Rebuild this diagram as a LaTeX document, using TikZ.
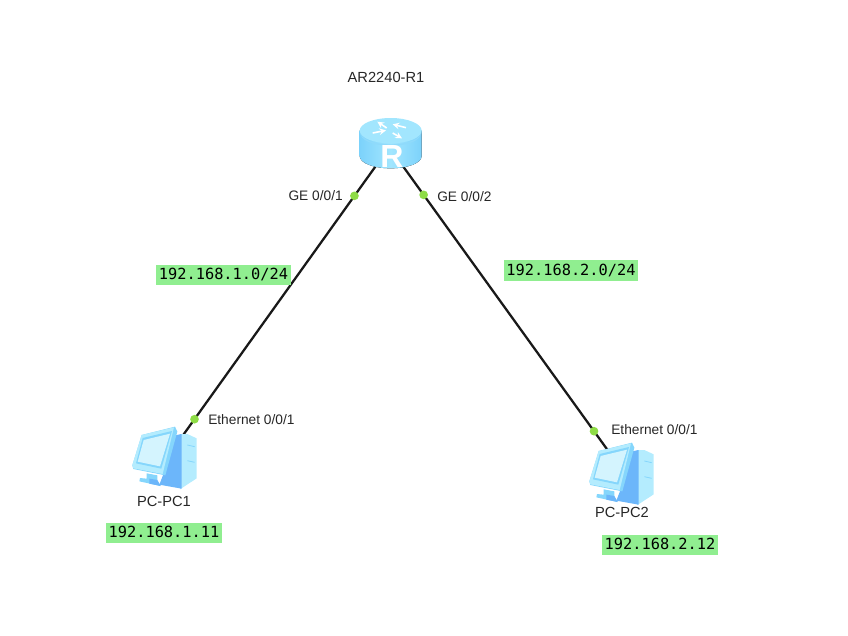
\documentclass[tikz,border=0pt]{standalone}
\usepackage{fontspec}
\setmainfont{Liberation Sans}
\newfontfamily\ipfont{DejaVu Sans Mono}
\usetikzlibrary{shapes.geometric}
\definecolor{ipgreen}{HTML}{90EE90}
\definecolor{dotgreen}{HTML}{8EDC46}
\definecolor{routerside}{HTML}{8FDAFB}
\definecolor{routeredge}{HTML}{7CD2FB}
\definecolor{routertop}{HTML}{A2E6FE}
\definecolor{pclight}{HTML}{B4ECFE}
\definecolor{pcmid}{HTML}{85D6FC}
\definecolor{pcdark}{HTML}{6CB6FA}
\definecolor{pcpale}{HTML}{D4F4FE}
\tikzset{
  anchorpt/.style={inner sep=0pt,minimum width=4.125pt,minimum height=1pt},
  pcpt/.style={inner sep=0pt,minimum size=1pt},
  link/.style={line width=1.7pt,black!90},
  portdot/.style={circle,fill=dotgreen,inner sep=0pt,minimum size=6.5pt},
  portlabel/.style={font=\fontsize{10.3}{12}\selectfont,text=black!85,inner sep=0pt},
  namelabel/.style={font=\fontsize{11}{13}\selectfont,text=black!85,inner sep=0pt},
  iplabel/.style={font=\ipfont\fontsize{11.5}{13}\selectfont,fill=ipgreen,text=black,inner xsep=2pt,inner ysep=2.7pt,text height=8.5pt,text depth=1.5pt},
  routericon/.pic={
    \begin{scope}[x=.25pt,y=-.25pt]
      \fill[left color=routeredge,right color=routeredge,middle color=routertop]
        (-91,-37) -- (-91,39) .. controls (-91,60) and (-50,76) .. (2,76) .. controls (54,76) and (95,60) .. (95,39) -- (95,-37) -- cycle;
      \fill[routertop] (2,-37) ellipse[x radius=93,y radius=38];
      \fill[routerside] (-91,-37) .. controls (-91,-12) and (-50,4) .. (2,4) .. controls (54,4) and (95,-12) .. (95,-37) .. controls (95,-6) and (54,8) .. (2,8) .. controls (-50,8) and (-91,-6) .. (-91,-37) -- cycle;
      \draw[white,line width=1.2pt,-{stealth}] (-10,-45) -- (-38,-64);
      \draw[white,line width=1.2pt,-{stealth}] (48,-46) -- (8,-56);
      \draw[white,line width=1.2pt,-{stealth}] (-52,-30) -- (-12,-38);
      \draw[white,line width=1.2pt,-{stealth}] (8,-30) -- (36,-14);
      \node[white,font=\bfseries\fontsize{24}{24}\selectfont,inner sep=0pt] at (6,40) {R};
    \end{scope}
  },
  pcicon/.pic={
    \begin{scope}[x=.25pt,y=-.25pt,shift={(-195,-147)}]
      \fill[pclight] (240,72) -- (262,72) -- (290,85) -- (290,205) -- (240,238) -- cycle;
      \draw[pcmid,line width=.6pt] (262,105) -- (284,110) (262,152) -- (284,157);
      \fill[pcdark] (215,78) -- (245,72) -- (245,236) -- (178,224) -- (195,180) -- cycle;
      \fill[pcmid] (140,190) -- (172,196) -- (172,212) -- (182,228) -- (118,214) -- (120,204) -- (140,206) -- cycle;
      \fill[pcdark] (148,206) -- (172,210) -- (182,228) -- (148,221) -- cycle;
      \fill[pcmid] (125,75) -- (225,50) -- (232,65) -- (196,196) -- (100,177) -- (97,166) -- cycle;
      \fill[pclight] (125,75) -- (222,52) -- (188,192) -- (100,175) -- (97,166) -- cycle;
      \fill[pcmid] (128,84) -- (216,63) -- (184,176) -- (108,160) -- cycle;
      \fill[pcpale] (131,90) -- (210,71) -- (180,169) -- (113,155) -- cycle;
    \end{scope}
  }
}
\begin{document}
\begin{tikzpicture}[x=.75pt,y=-.75pt]
\useasboundingbox (0,0) rectangle (848,635);
\node[anchorpt] (R) at (389.25,143) {};
\node[pcpt] (PC1) at (166,459) {};
\node[pcpt] (PC2) at (622,470) {};
\draw[link] (R.east) -- (PC1) node[portdot,pos=.1677] (d1) {} node[portdot,pos=.8766] (d3) {};
\draw[link] (R.west) -- (PC2) node[portdot,pos=.159] (d2) {} node[portdot,pos=.8838] (d4) {};
\pic at (390,143) {routericon};
\pic at (165,459) {pcicon};
\pic at (622,475) {pcicon};
\node[namelabel] (lr) at (386,77) {AR2240-R1};
\node[portlabel,anchor=east] (l1) at (343,195.5) {GE 0/0/1};
\node[portlabel,anchor=west] (l2) at (437,197) {GE 0/0/2};
\node[portlabel,anchor=west] (l3) at (208,419.5) {Ethernet 0/0/1};
\node[portlabel,anchor=west] (l4) at (611,429.5) {Ethernet 0/0/1};
\node[namelabel] (n1) at (164,501.5) {PC-PC1};
\node[namelabel] (n2) at (622,512.5) {PC-PC2};
\node[iplabel] (i1) at (223.5,275) {192.168.1.0/24};
\node[iplabel] (i2) at (571,270.5) {192.168.2.0/24};
\node[iplabel] (i3) at (164,533) {192.168.1.11};
\node[iplabel] (i4) at (660,545) {192.168.2.12};
\end{tikzpicture}
\end{document}
